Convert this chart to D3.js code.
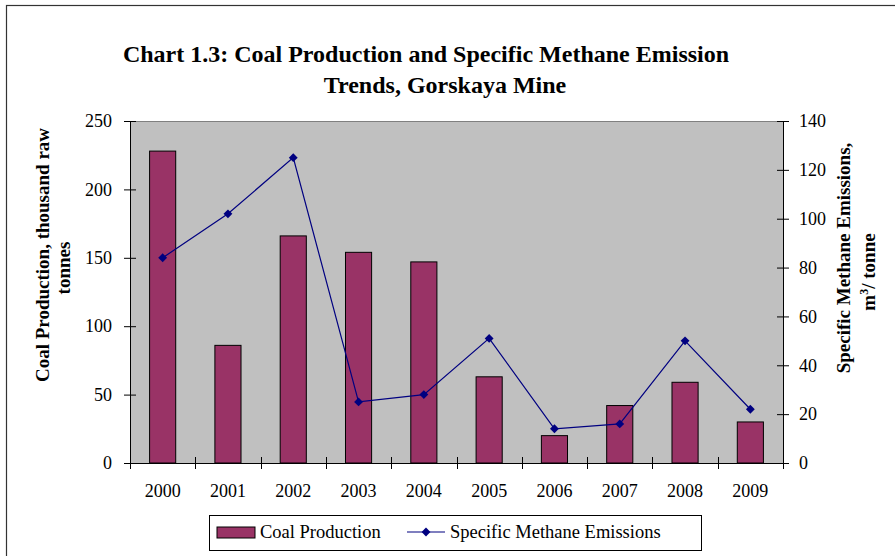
<!DOCTYPE html>
<html>
<head>
<meta charset="utf-8">
<script src="https://cdn.jsdelivr.net/npm/d3@7"></script>
<style>
  body { margin: 0; background: #fff; }
  text { font-family: "Liberation Serif", "Times New Roman", serif; fill: #000; }
</style>
</head>
<body>
<script>
// chart values
var years = ["2000", "2001", "2002", "2003", "2004", "2005", "2006", "2007", "2008", "2009"];
var coalProduction = [228, 86, 166, 154, 147, 63, 20, 42, 59, 30];
var methaneEmissions = [84, 102, 125, 25, 28, 51, 14, 16, 50, 22];
var leftTicks = [0, 50, 100, 150, 200, 250];
var rightTicks = [0, 20, 40, 60, 80, 100, 120, 140];

var W = 895, H = 556,
    margin = {top: 121, right: 112, bottom: 93, left: 130},
    width = W - margin.left - margin.right,
    height = H - margin.top - margin.bottom;

var svg = d3.select("body").append("svg")
    .attr("width", W)
    .attr("height", H);

// outer chart border
svg.append("rect")
    .attr("x", 6.5).attr("y", 5.5)
    .attr("width", 900).attr("height", 600)
    .attr("fill", "none")
    .attr("stroke", "#333")
    .attr("stroke-width", 1.2);

svg.append("text")
    .attr("x", 426).attr("y", 62)
    .attr("text-anchor", "middle")
    .style("font-size", "24px").style("font-weight", "bold")
    .text("Chart 1.3: Coal Production and Specific Methane Emission");
svg.append("text")
    .attr("x", 445).attr("y", 93)
    .attr("text-anchor", "middle")
    .style("font-size", "24px").style("font-weight", "bold")
    .text("Trends, Gorskaya Mine");

var g = svg.append("g")
    .attr("transform", "translate(" + margin.left + "," + margin.top + ")");

var x = d3.scaleBand().domain(years).range([0, width]);
var yLeft = d3.scaleLinear().domain([0, 250]).range([height, 0]);
var yRight = d3.scaleLinear().domain([0, 140]).range([height, 0]);

// plot area
g.append("rect")
    .attr("width", width).attr("height", height)
    .attr("fill", "#c0c0c0");
g.append("line")
    .attr("x1", 0).attr("x2", width)
    .attr("y1", 0.5).attr("y2", 0.5)
    .attr("stroke", "#808080");

// bars
var barW = x.bandwidth() / 2.5;
g.selectAll(".bar")
    .data(coalProduction)
    .enter().append("rect")
    .attr("class", "bar")
    .attr("x", function(d, i) { return x(years[i]) + (x.bandwidth() - barW) / 2; })
    .attr("y", function(d) { return yLeft(d); })
    .attr("width", barW)
    .attr("height", function(d) { return height - yLeft(d); })
    .attr("fill", "#993366")
    .attr("stroke", "#000")
    .attr("stroke-width", 1);

// line + markers
var line = d3.line()
    .x(function(d, i) { return x(years[i]) + x.bandwidth() / 2; })
    .y(function(d) { return yRight(d); });

g.append("path")
    .datum(methaneEmissions)
    .attr("d", line)
    .attr("fill", "none")
    .attr("stroke", "#000080")
    .attr("stroke-width", 1.2);

var diamond = d3.symbol().type(d3.symbolDiamond2).size(50);
g.selectAll(".pt")
    .data(methaneEmissions)
    .enter().append("path")
    .attr("class", "pt")
    .attr("d", diamond)
    .attr("transform", function(d, i) {
        return "translate(" + (x(years[i]) + x.bandwidth() / 2) + "," + yRight(d) + ")";
    })
    .attr("fill", "#000080");

// axes
var leftAxis = d3.axisLeft(yLeft).tickValues(leftTicks).tickSize(6).tickPadding(12);
var rightAxis = d3.axisRight(yRight).tickValues(rightTicks).tickSize(6).tickPadding(10);
var bottomAxis = d3.axisBottom(x).tickSize(0).tickPadding(21);

function styleAxis(sel) {
    sel.select(".domain").attr("stroke", "#000");
    sel.selectAll(".tick line").attr("stroke", "#000");
    sel.selectAll("text").style("font-size", "18px")
        .style("font-family", "'Liberation Serif', 'Times New Roman', serif");
}

var la = g.append("g").call(leftAxis).call(styleAxis);
la.select(".domain").attr("d", "M0.5," + height + "V0");
la.selectAll(".tick line").attr("x1", 6);

var ra = g.append("g").attr("transform", "translate(" + width + ",0)").call(rightAxis).call(styleAxis);
ra.select(".domain").attr("d", "M0.5," + height + "V0");
ra.selectAll(".tick line").attr("x1", -6);

var ba = g.append("g").attr("transform", "translate(0," + height + ")").call(bottomAxis).call(styleAxis);
ba.select(".domain").attr("d", "M0,0.5H" + width);
// category boundary ticks
ba.selectAll(".sep")
    .data(years.concat(["end"]))
    .enter().append("line")
    .attr("class", "sep")
    .attr("x1", function(d, i) { return Math.round(i * x.bandwidth()) + 0.5; })
    .attr("x2", function(d, i) { return Math.round(i * x.bandwidth()) + 0.5; })
    .attr("y1", -6).attr("y2", 6)
    .attr("stroke", "#000");

// axis titles
svg.append("text")
    .attr("transform", "translate(49,255) rotate(-90)")
    .attr("text-anchor", "middle")
    .style("font-size", "19px").style("font-weight", "bold")
    .text("Coal Production, thousand raw");
svg.append("text")
    .attr("transform", "translate(70,268) rotate(-90)")
    .attr("text-anchor", "middle")
    .style("font-size", "19px").style("font-weight", "bold")
    .text("tonnes");

svg.append("text")
    .attr("transform", "translate(850,258) rotate(-90)")
    .attr("text-anchor", "middle")
    .style("font-size", "19px").style("font-weight", "bold")
    .text("Specific Methane Emissions,");
var t2 = svg.append("text")
    .attr("transform", "translate(875,272) rotate(-90)")
    .attr("text-anchor", "middle")
    .style("font-size", "19px").style("font-weight", "bold");
t2.append("tspan").text("m");
t2.append("tspan").attr("dy", -7).style("font-size", "12px").text("3");
t2.append("tspan").attr("dy", 7).text("/ tonne");

// legend
var lg = svg.append("g");
lg.append("rect")
    .attr("x", 209.5).attr("y", 515.5)
    .attr("width", 492).attr("height", 35)
    .attr("fill", "#fff").attr("stroke", "#000");
lg.append("rect")
    .attr("x", 217).attr("y", 527)
    .attr("width", 38).attr("height", 11)
    .attr("fill", "#993366").attr("stroke", "#000");
lg.append("text")
    .attr("x", 260).attr("y", 538)
    .style("font-size", "18.5px")
    .text("Coal Production");
lg.append("line")
    .attr("x1", 407).attr("x2", 445)
    .attr("y1", 532).attr("y2", 532)
    .attr("stroke", "#000080").attr("stroke-width", 1.2);
lg.append("path")
    .attr("d", diamond)
    .attr("transform", "translate(426,532)")
    .attr("fill", "#000080");
lg.append("text")
    .attr("x", 450).attr("y", 538)
    .style("font-size", "18.5px")
    .text("Specific Methane Emissions");
</script>
</body>
</html>
